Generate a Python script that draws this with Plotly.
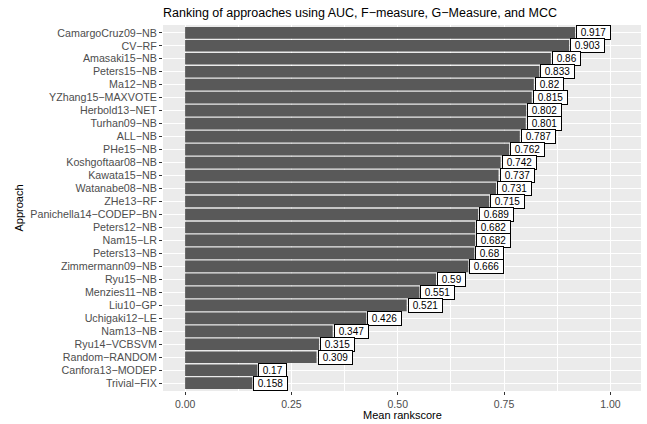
import plotly.graph_objects as go

approaches = [
    "CamargoCruz09−NB", "CV−RF", "Amasaki15−NB", "Peters15−NB", "Ma12−NB",
    "YZhang15−MAXVOTE", "Herbold13−NET", "Turhan09−NB", "ALL−NB", "PHe15−NB",
    "Koshgoftaar08−NB", "Kawata15−NB", "Watanabe08−NB", "ZHe13−RF",
    "Panichella14−CODEP−BN", "Peters12−NB", "Nam15−LR", "Peters13−NB",
    "Zimmermann09−NB", "Ryu15−NB", "Menzies11−NB", "Liu10−GP", "Uchigaki12−LE",
    "Nam13−NB", "Ryu14−VCBSVM", "Random−RANDOM", "Canfora13−MODEP", "Trivial−FIX",
]
scores = [
    0.917, 0.903, 0.86, 0.833, 0.82, 0.815, 0.802, 0.801, 0.787, 0.762,
    0.742, 0.737, 0.731, 0.715, 0.689, 0.682, 0.682, 0.68, 0.666, 0.59,
    0.551, 0.521, 0.426, 0.347, 0.315, 0.309, 0.17, 0.158,
]
x_ticks = [0.0, 0.25, 0.5, 0.75, 1.0]
x_tick_labels = ["0.00", "0.25", "0.50", "0.75", "1.00"]

FONT = "Liberation Sans, Arial, sans-serif"
H, T, B = 424, 25, 33
PANEL_H = H - T - B

fig = go.Figure()
fig.add_trace(go.Bar(
    x=scores, y=approaches, orientation="h",
    marker=dict(color="#595959", line=dict(width=0)),
    width=0.9, hoverinfo="skip",
))

for a, s in zip(approaches, scores):
    fig.add_annotation(
        x=s, y=a, text="\u00a0" + str(s) + "\u00a0", showarrow=False,
        font=dict(family=FONT, size=10, color="black"),
        bgcolor="white", bordercolor="black", borderwidth=1, borderpad=1,
        xanchor="left", yanchor="middle", xshift=1,
    )

# x-axis title placed below the tick labels
fig.add_annotation(
    xref="paper", yref="paper", x=0.5, y=-(415 - (H - B)) / PANEL_H,
    text="Mean rankscore", showarrow=False, xanchor="center", yanchor="middle",
    font=dict(family=FONT, size=11, color="black"),
)

n = len(approaches)
fig.update_layout(
    width=647, height=H,
    margin=dict(l=163, r=6, t=T, b=B, autoexpand=False),
    paper_bgcolor="white", plot_bgcolor="#EBEBEB",
    showlegend=False,
    bargap=0.1,
    font=dict(family=FONT, size=11, color="black"),
    title=dict(
        text="Ranking of approaches using AUC, F−measure, G−Measure, and MCC",
        x=163/647, xanchor="left", y=1 - 12.5/H, yanchor="middle",
        font=dict(family=FONT, size=12.5, color="black"),
    ),
    xaxis=dict(
        range=[-0.052, 1.072], tickvals=x_ticks, ticktext=x_tick_labels,
        showgrid=True, gridcolor="white", gridwidth=1.1, zeroline=False,
        ticks="outside", ticklen=3, tickcolor="#333333", tickwidth=1,
        tickfont=dict(family=FONT, size=10.5, color="#4D4D4D"),
        minor=dict(tickvals=[0.125, 0.375, 0.625, 0.875], showgrid=True,
                   gridcolor="white", gridwidth=0.5, ticks=""),
        showline=False, automargin=False,
    ),
    yaxis=dict(
        categoryorder="array", categoryarray=approaches,
        tickmode="array", tickvals=approaches, ticktext=approaches,
        range=[n - 1 + 0.6, -0.6],
        showgrid=True, gridcolor="white", gridwidth=1.1,
        ticks="outside", ticklen=3, tickcolor="#333333", tickwidth=1,
        tickfont=dict(family=FONT, size=10.7, color="#4D4D4D"),
        title=dict(text="Approach", standoff=4,
                   font=dict(family=FONT, size=11, color="black")),
        showline=False, zeroline=False, automargin=False,
    ),
)

fig.write_html("out.html", config={"displayModeBar": False},
               post_script="document.body.style.margin='0';document.body.style.padding='0';")
